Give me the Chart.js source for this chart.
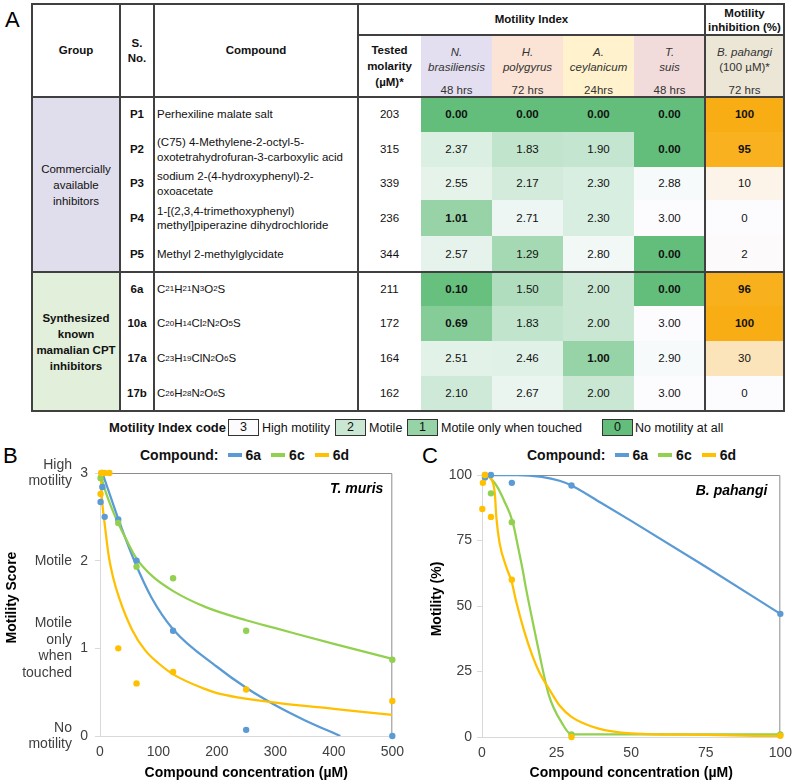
<!DOCTYPE html>
<html><head><meta charset="utf-8">
<script src="https://cdn.jsdelivr.net/npm/chart.js@4.4.1/dist/chart.umd.min.js"></script>
<style>
html,body{margin:0;padding:0;background:#fff;}
body{width:800px;height:783px;position:relative;overflow:hidden;font-family:"Liberation Sans",Arial,sans-serif;color:#111;}
.cell{position:absolute;display:flex;align-items:center;justify-content:center;text-align:center;font-size:11.5px;line-height:14.5px;box-sizing:border-box;}
.ln{position:absolute;background:#404040;}
.panel{position:absolute;font-size:22px;line-height:22px;color:#000;}
.legend{position:absolute;font-weight:bold;font-size:14px;line-height:18px;display:flex;align-items:center;color:#111;white-space:nowrap;}
.sw{display:inline-block;width:14px;height:4px;margin:0 4px 0 10px;}
.codebox{position:absolute;height:17px;width:31px;box-sizing:border-box;border:1.5px solid #333;font-size:12.5px;line-height:14px;text-align:center;}
.codetxt{position:absolute;font-size:12.5px;line-height:16px;white-space:nowrap;color:#111;}
sub{font-size:8px;vertical-align:-2px;line-height:0;}
</style></head><body>
<div id="root"></div>
<canvas id="chartB" width="412" height="343" style="position:absolute;left:0;top:440px;width:412px;height:343px"></canvas>
<canvas id="chartC" width="390" height="343" style="position:absolute;left:410px;top:440px;width:390px;height:343px"></canvas>
<script>
// ================= DATA: Panel A =================
const groupLabels = [['Commercially','available','inhibitors'], ['Synthesized','known','mamalian CPT','inhibitors']];
const serialNos = ['P1','P2','P3','P4','P5','6a','10a','17a','17b'];
const compoundNames = [
  ['Perhexiline malate salt'],
  ['(C75) 4-Methylene-2-octyl-5-','oxotetrahydrofuran-3-carboxylic acid'],
  ['sodium 2-(4-hydroxyphenyl)-2-','oxoacetate'],
  ['1-[(2,3,4-trimethoxyphenyl)','methyl]piperazine dihydrochloride'],
  ['Methyl 2-methylglycidate'],
  ['C21H21N3O2S'],
  ['C20H14Cl2N2O5S'],
  ['C23H19ClN2O6S'],
  ['C26H28N2O6S']
];
const isFormula = [false,false,false,false,false,true,true,true,true];
const testedMolarity = [203,315,339,236,344,211,172,164,162];
const species = ['N. brasiliensis','H. polygyrus','A. ceylanicum','T. suis'];
const speciesTime = ['48 hrs','72 hrs','24hrs','48 hrs'];
const nBrasiliensis = [0.00,2.37,2.55,1.01,2.57,0.10,0.69,2.51,2.10];
const hPolygyrus   = [0.00,1.83,2.17,2.71,1.29,1.50,1.83,2.46,2.67];
const aCeylanicum  = [0.00,1.90,2.30,2.30,2.80,2.00,2.00,1.00,2.00];
const tSuis        = [0.00,0.00,2.88,3.00,0.00,0.00,3.00,2.90,3.00];
const bPahangiInhibition = [100,95,10,0,2,96,100,30,0];
const codeValues = [3,2,1,0];
const codeLabels = ['High motility','Motile','Motile only when touched','No motility at all'];

// ================= DATA: Panel B (T. muris) =================
const bConc6a  = [1,2,4,8,31.25,62.5,125,250,500];
const bScore6a = [2.67,2.95,2.84,2.50,2.47,2.00,1.20,0.07,0.00];
const bConc6c  = [1,4,31.25,62.5,125,250,500];
const bScore6c = [2.94,3.00,2.43,1.93,1.80,1.20,0.87];
const bConc6d  = [1,2,4,8,16,31.25,62.5,125,250,500];
const bScore6d = [2.76,3.00,3.00,3.00,3.00,1.00,0.60,0.73,0.53,0.40];
// fitted curves
const bFitX6a = [4,16,30,58,88,126,200,250,300,350,411];
const bFitY6a = [3.00,2.77,2.50,2.01,1.58,1.21,0.79,0.55,0.35,0.18,0.00];
const bFitX6c = [1,10,20,31,45,62,90,126,181,250,300,400,500];
const bFitY6c = [2.98,2.78,2.60,2.43,2.24,2.03,1.82,1.65,1.47,1.32,1.23,1.05,0.88];
const bFitX6d = [0.5,2,4,8,15,22,33,55,77,100,126,178,200,300,400,500];
const bFitY6d = [3.00,2.85,2.65,2.42,2.05,1.82,1.57,1.21,0.98,0.83,0.70,0.54,0.49,0.38,0.31,0.24];
const bScoreNames = [['High','motility'],['Motile'],['Motile','only','when','touched'],['No','motility']];
const bScoreNameValues = [3,2,1,0];

// ================= DATA: Panel C (B. pahangi) =================
const cConc6a = [1,3,10,30,100];
const cMot6a  = [99,100,97,96,47];
const cConc6c = [1,3,10,30,100];
const cMot6c  = [100,93,82,1,1];
const cConc6d = [0.1,0.3,1,3,10,30,100];
const cMot6d  = [87,97,100,84,60,0,0.5];
const cFitX6a = [0,12,20,26,30,40,50,75,100];
const cFitY6a = [100,100,99.3,97.8,96,89.3,82.5,65,47];
const cFitX6c = [0,2,4.8,7.5,10.3,12,13.6,14.7,17,19,22.4,26.7,30,50,100];
const cFitY6c = [100,99.5,96,90,82,73,64,57,44,33,16,5.5,1,1,1];
const cFitX6d = [0,2,3.5,4.3,4.8,5.9,8.1,10,11.4,14,16.9,19.5,22.4,26,30,38.8,50,75,100];
const cFitY6d = [100,99.5,97.5,93,84,74,65,59,52,41,31,24,18.5,12,7.7,3.3,1.4,0.8,0.3];
const compoundKeys = ['6a','6c','6d'];

// ================= STYLE / LAYOUT =================
const SERIES_COLORS = ['#5B9BD5','#92D050','#FFC000'];
const FONT = '"Liberation Sans", Arial, sans-serif';
const colX = [32,120,154,358,421,492,563,634,705,784];
const rowY = [97,132,167,200,236,272,306,341,376,411];
const headTop = 4, headMid = 35;
const speciesBg = ['#e4dff0','#fbe4d5','#fff2cc','#f2dcdb'];
const bPahBg = '#ece6d6';
const groupBg = ['#e0ddec','#e2efda'];
const groupRows = [[0,5],[5,9]];

function mix(a,b,t){return 'rgb('+a.map((v,i)=>Math.round(v+(b[i]-v)*t)).join(',')+')';}
function greenScale(v){return mix([99,190,123],[252,252,255],Math.max(0,Math.min(1,v/3)));}
function orangeScale(p){return mix([252,252,255],[249,173,20],Math.max(0,Math.min(1,p/100)));}
function formulaHtml(s){return s.replace(/(\d+)/g,'<sub>$1</sub>');}

const root = document.getElementById('root');
function cell(x0,x1,y0,y1,html,style){
  const d=document.createElement('div'); d.className='cell';
  d.style.left=x0+'px'; d.style.top=y0+'px'; d.style.width=(x1-x0)+'px'; d.style.height=(y1-y0)+'px';
  if(style) Object.assign(d.style,style);
  d.innerHTML=html; root.appendChild(d); return d;
}
function line(x0,y0,x1,y1){
  const d=document.createElement('div'); d.className='ln';
  if(y0===y1){d.style.left=(x0-1)+'px';d.style.top=(y0-1)+'px';d.style.width=(x1-x0+2)+'px';d.style.height='2px';}
  else{d.style.left=(x0-1)+'px';d.style.top=(y0-1)+'px';d.style.width='2px';d.style.height=(y1-y0+2)+'px';}
  root.appendChild(d);
}
function txt(cls,x,y,html,style){
  const d=document.createElement('div'); d.className=cls; d.style.left=x+'px'; d.style.top=y+'px';
  if(style) Object.assign(d.style,style); d.innerHTML=html; root.appendChild(d); return d;
}

// panel letters
txt('panel',5,9,'A'); txt('panel',3,445,'B'); txt('panel',422,445,'C');

// header
cell(colX[0],colX[1],headTop,rowY[0],'Group',{fontWeight:'bold'});
cell(colX[1],colX[2],headTop,rowY[0],'S.<br>No.',{fontWeight:'bold'});
cell(colX[2],colX[3],headTop,rowY[0],'Compound',{fontWeight:'bold'});
cell(colX[3],colX[8],headTop,headMid,'Motility Index',{fontWeight:'bold'});
cell(colX[8],colX[9],headTop,headMid,'Motility<br>inhibition (%)',{fontWeight:'bold',lineHeight:'14px'});
cell(colX[3],colX[4],headMid,rowY[0],'Tested<br>molarity<br>(µM)*',{fontWeight:'bold',lineHeight:'16px'});
species.forEach((sp,k)=>{
  const parts=sp.split(' ');
  cell(colX[4+k],colX[5+k],headMid,rowY[0],
    '<div><div style="font-style:italic;color:#333">'+parts[0]+'<br>'+parts[1]+'</div><div style="margin-top:9px;color:#333">'+speciesTime[k]+'</div></div>',
    {background:speciesBg[k],alignItems:'flex-start',paddingTop:'10px'});
});
cell(colX[8],colX[9],headMid,rowY[0],
  '<div><div style="color:#333"><i>B. pahangi</i><br>(100 µM)*</div><div style="margin-top:9px;color:#333">72 hrs</div></div>',
  {background:bPahBg,alignItems:'flex-start',paddingTop:'10px'});

// groups
groupRows.forEach((g,k)=>{
  cell(colX[0],colX[1],rowY[g[0]],rowY[g[1]],groupLabels[k].join('<br>'),
    {background:groupBg[k],lineHeight:'16px',fontWeight:k===1?'bold':'normal'});
});

// body rows
const speciesData=[nBrasiliensis,hPolygyrus,aCeylanicum,tSuis];
serialNos.forEach((sn,i)=>{
  const y0=rowY[i], y1=rowY[i+1];
  cell(colX[1],colX[2],y0,y1,sn,{fontWeight:'bold'});
  const nameHtml = isFormula[i] ? formulaHtml(compoundNames[i][0]) : compoundNames[i].join('<br>');
  cell(colX[2],colX[3],y0,y1,nameHtml,{justifyContent:'flex-start',textAlign:'left',paddingLeft:'3px'});
  cell(colX[3],colX[4],y0,y1,String(testedMolarity[i]));
  speciesData.forEach((arr,k)=>{
    const v=arr[i];
    cell(colX[4+k],colX[5+k],y0,y1,v.toFixed(2),{background:greenScale(v),fontWeight:v<1.05?'bold':'normal'});
  });
  const p=bPahangiInhibition[i];
  cell(colX[8],colX[9],y0,y1,String(p),{background:orangeScale(p),fontWeight:p>=90?'bold':'normal'});
});

// grid lines
line(colX[0],headTop,colX[9],headTop);
line(colX[0],rowY[9],colX[9],rowY[9]);
line(colX[0],headTop,colX[0],rowY[9]);
line(colX[9],headTop,colX[9],rowY[9]);
[1,2,3,8].forEach(c=>line(colX[c],headTop,colX[c],rowY[9]));
line(colX[3],headMid,colX[9],headMid);
line(colX[0],rowY[0],colX[9],rowY[0]);
line(colX[0],rowY[5],colX[9],rowY[5]);

// motility index code legend
txt('codetxt',109,420,'<b>Motility Index code</b>',{fontSize:'13px'});
const codeBoxX=[228,335,407,602], codeTxtX=[262,369,441,635];
codeValues.forEach((v,k)=>{
  txt('codebox',codeBoxX[k],419,String(v),{background:greenScale(v)});
  txt('codetxt',codeTxtX[k],420,codeLabels[k]);
});

// compound legends for B and C
function legendHtml(){
  return 'Compound:'+compoundKeys.map((k,i)=>'<span class="sw" style="background:'+SERIES_COLORS[i]+(i===0?';margin-left:9px':'')+'"></span>'+k).join('');
}
txt('legend',140,446,legendHtml());
txt('legend',527,446,legendHtml());

// ================= CHARTS =================
Chart.defaults.font.family = FONT;
Chart.defaults.color = '#404040';
function pts(xs,ys){return xs.map((x,i)=>({x:x,y:ys[i]}));}
function curve(xs,ys,color,order){return {data:pts(xs,ys),borderColor:color,backgroundColor:color,borderWidth:2.25,pointRadius:0,showLine:true,fill:false,cubicInterpolationMode:'monotone',order:order};}
function dots(xs,ys,color,order){return {data:pts(xs,ys),backgroundColor:color,borderColor:color,borderWidth:0,pointRadius:3.2,showLine:false,clip:false,order:order};}

function framePlugin(cfg){
  return {
    id:'frame_'+cfg.id,
    beforeDatasetsDraw(chart){
      const {ctx,chartArea:a}=chart;
      ctx.save(); ctx.strokeStyle='#8c8c8c'; ctx.lineWidth=1;
      ctx.beginPath(); ctx.moveTo(a.left+1,a.top+0.5); ctx.lineTo(a.right-0.5,a.top+0.5); ctx.lineTo(a.right-0.5,a.bottom); ctx.stroke();
      ctx.restore();
    },
    afterDraw(chart){
      const {ctx,chartArea:a}=chart;
      ctx.save();
      ctx.font='italic bold 14px '+FONT; ctx.fillStyle='#000'; ctx.textAlign='right'; ctx.textBaseline='middle';
      ctx.fillText(cfg.species,a.right-cfg.specRight,a.top+16);
      ctx.translate(cfg.titleX,(a.top+a.bottom)/2-7); ctx.rotate(-Math.PI/2);
      ctx.font='bold 14px '+FONT; ctx.textAlign='center'; ctx.fillStyle='#000';
      ctx.fillText(cfg.yTitle,0,0);
      ctx.restore();
      if(cfg.catNames){
        const ys=chart.scales.y; ctx.save();
        ctx.font='14px '+FONT; ctx.fillStyle='#404040'; ctx.textAlign='right'; ctx.textBaseline='middle';
        cfg.catNames.forEach((lines,k)=>{
          const yc=ys.getPixelForValue(cfg.catValues[k]); const lh=16.5;
          lines.forEach((t,j)=>ctx.fillText(t,72,yc+(j-(lines.length-1)/2)*lh));
        });
        ctx.restore();
      }
    }
  };
}

function makeChart(id,cfg){
  return new Chart(document.getElementById(id),{
    type:'scatter',
    data:{datasets:cfg.datasets},
    options:{
      responsive:false,animation:false,devicePixelRatio:1,
      layout:{padding:{top:cfg.padTop,right:cfg.padRight,left:0,bottom:0}},
      plugins:{legend:{display:false},tooltip:{enabled:false}},
      scales:{
        x:{type:'linear',min:cfg.xMin,max:cfg.xMax,
           ticks:{stepSize:cfg.xStep,padding:8,color:'#404040',font:{size:14}},
           grid:{display:false,drawTicks:false},border:{display:true,color:'#d9d9d9',width:1},
           title:{display:true,text:'Compound concentration (µM)',color:'#000',font:{size:14,weight:'bold'},padding:{top:0,bottom:1}},
           afterFit(s){s.height=cfg.xAxisH;}},
        y:{type:'linear',min:cfg.yMin,max:cfg.yMax,
           ticks:{stepSize:cfg.yStep,padding:cfg.yPad,color:'#404040',font:{size:14}},
           grid:{display:true,drawOnChartArea:false,drawTicks:true,tickLength:5,color:'#d9d9d9'},
           border:{display:true,color:'#d9d9d9',width:1},
           afterFit(s){s.width=cfg.yAxisW;}}
      }
    },
    plugins:[framePlugin(cfg.frame)]
  });
}

makeChart('chartB',{
  datasets:[
    curve(bFitX6a,bFitY6a,SERIES_COLORS[0],6),
    curve(bFitX6c,bFitY6c,SERIES_COLORS[1],5),
    curve(bFitX6d,bFitY6d,SERIES_COLORS[2],4),
    dots(bConc6a,bScore6a,SERIES_COLORS[0],3),
    dots(bConc6c,bScore6c,SERIES_COLORS[1],2),
    dots(bConc6d,bScore6d,SERIES_COLORS[2],1)
  ],
  padTop:33,padRight:8,xMin:0,xMax:500,xStep:100,yMin:0,yMax:3,yStep:1,yPad:7,xAxisH:47,yAxisW:100,
  frame:{id:'B',species:'T. muris',specRight:9,yTitle:'Motility Score',titleX:12,catNames:bScoreNames,catValues:bScoreNameValues}
});

makeChart('chartC',{
  datasets:[
    curve(cFitX6a,cFitY6a,SERIES_COLORS[0],6),
    curve(cFitX6c,cFitY6c,SERIES_COLORS[1],5),
    curve(cFitX6d,cFitY6d,SERIES_COLORS[2],4),
    dots(cConc6a,cMot6a,SERIES_COLORS[0],3),
    dots(cConc6c,cMot6c,SERIES_COLORS[1],2),
    dots(cConc6d,cMot6d,SERIES_COLORS[2],1)
  ],
  padTop:35,padRight:14,xMin:0,xMax:100,xStep:25,yMin:0,yMax:100,yStep:25,yPad:5,xAxisH:46,yAxisW:72,
  frame:{id:'C',species:'B. pahangi',specRight:13,yTitle:'Motility (%)',titleX:27}
});
</script>
</body></html>
